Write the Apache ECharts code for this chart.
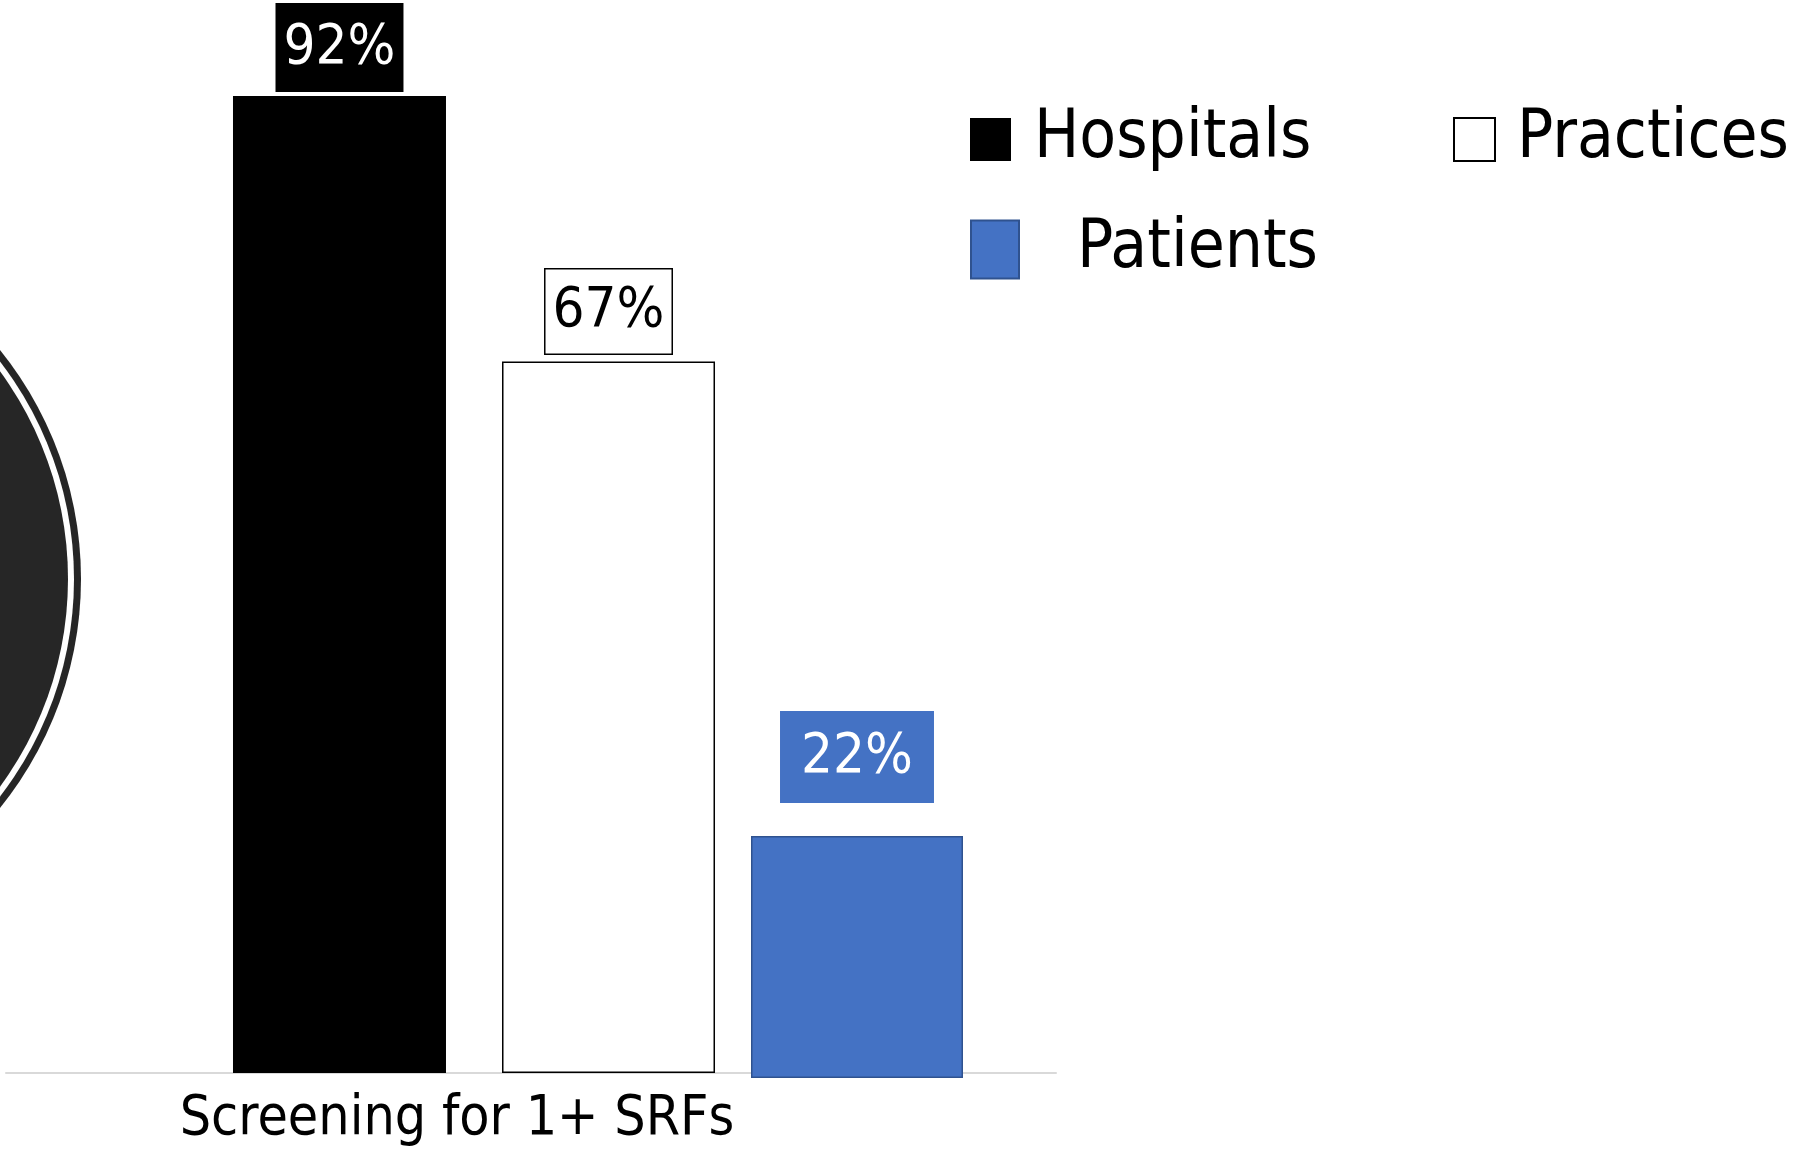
<!DOCTYPE html>
<html>
<head>
<meta charset="utf-8">
<script src="https://cdn.jsdelivr.net/npm/echarts@6/dist/echarts.min.js"></script>
<style>html,body{margin:0;padding:0;background:#fff}#chart{width:1795px;height:1153px}</style>
</head>
<body>
<div id="chart"></div>
<script>
const categories = ['Screening for 1+ SRFs'];
const seriesNames = ['Hospitals', 'Practices', 'Patients'];
const hospitals = [92];
const practices = [67];
const patients = [22];

const FONT = "'Liberation Sans Narrow', 'DejaVu Sans Condensed', 'Liberation Sans', sans-serif";
const chart = echarts.init(document.getElementById('chart'), null, {renderer: 'canvas'});

const legendBase = {
  padding: 0, icon: 'rect', selectedMode: true,
  textStyle: {fontFamily: FONT, fontSize: 67, color: '#000'}
};
const labelBase = {show: true, position: 'top', formatter: '{c}%', fontFamily: FONT, fontSize: 56, lineHeight: 62};

const option = {
  backgroundColor: '#fff',
  animation: false,
  graphic: [
    {type: 'circle', silent: true, z: -10, shape: {cx: -283, cy: 579, r: 364}, style: {fill: '#262626'}},
    {type: 'circle', silent: true, z: -10, shape: {cx: -283, cy: 579, r: 357}, style: {fill: '#ffffff'}},
    {type: 'circle', silent: true, z: -10, shape: {cx: -283, cy: 579, r: 351}, style: {fill: '#262626'}}
  ],
  legend: [
    Object.assign({}, legendBase, {data: [seriesNames[0]], left: 970, top: 106, itemWidth: 41, itemHeight: 43,
      textStyle: Object.assign({}, legendBase.textStyle, {padding: [0, 0, 0, 18]})}),
    Object.assign({}, legendBase, {data: [seriesNames[1]], left: 1453, top: 106, itemWidth: 41, itemHeight: 43,
      textStyle: Object.assign({}, legendBase.textStyle, {padding: [0, 0, 0, 17]})}),
    Object.assign({}, legendBase, {data: [seriesNames[2]], left: 970, top: 216, itemWidth: 48, itemHeight: 58,
      textStyle: Object.assign({}, legendBase.textStyle, {padding: [0, 0, 0, 53]})})
  ],
  grid: [
    {left: 6, right: 853, top: 11, bottom: 80},
    {left: 6, right: 739, top: 11, bottom: 80},
    {left: 700, right: 781, top: 0, bottom: 75}
  ],
  xAxis: [
    {
      type: 'category', gridIndex: 0, data: categories,
      axisLine: {show: false}, axisTick: {show: false},
      axisLabel: {fontFamily: FONT, fontSize: 55, color: '#000', margin: 19, align: 'center', padding: [0, 34, 0, 0]}
    },
    {
      type: 'category', gridIndex: 1, data: [''],
      axisLine: {show: true, lineStyle: {color: '#D9D9D9', width: 2}},
      axisTick: {show: false}, axisLabel: {show: false}
    },
    {
      type: 'category', gridIndex: 2, data: categories, show: false
    }
  ],
  yAxis: [
    {type: 'value', gridIndex: 0, min: 0, max: 100, show: false},
    {type: 'value', gridIndex: 1, min: 0, max: 100, show: false},
    {type: 'value', gridIndex: 2, min: 0, max: 98, show: false}
  ],
  series: [
    {
      name: seriesNames[0], type: 'bar', xAxisIndex: 0, yAxisIndex: 0, data: hospitals,
      barWidth: 213,
      itemStyle: {color: '#000000'},
      label: Object.assign({}, labelBase, {distance: 4, color: '#fff', backgroundColor: '#000', padding: [14, 8, 13, 8]})
    },
    {
      name: seriesNames[1], type: 'bar', xAxisIndex: 0, yAxisIndex: 0, data: practices,
      barWidth: 213, barGap: '26.3%',
      itemStyle: {color: '#ffffff', borderColor: '#000000', borderWidth: 1.5},
      label: Object.assign({}, labelBase, {distance: 8, color: '#000', backgroundColor: '#fff', borderColor: '#000', borderWidth: 1.5, padding: [11, 7, 11, 7]})
    },
    {
      name: seriesNames[2], type: 'bar', xAxisIndex: 2, yAxisIndex: 2, data: patients,
      barWidth: 212,
      itemStyle: {color: '#4472C4', borderColor: '#2F528F', borderWidth: 1.5},
      label: Object.assign({}, labelBase, {distance: 33, color: '#fff', backgroundColor: '#4472C4', padding: [15, 21, 15, 21]})
    }
  ]
};
chart.setOption(option);
</script>
</body>
</html>
